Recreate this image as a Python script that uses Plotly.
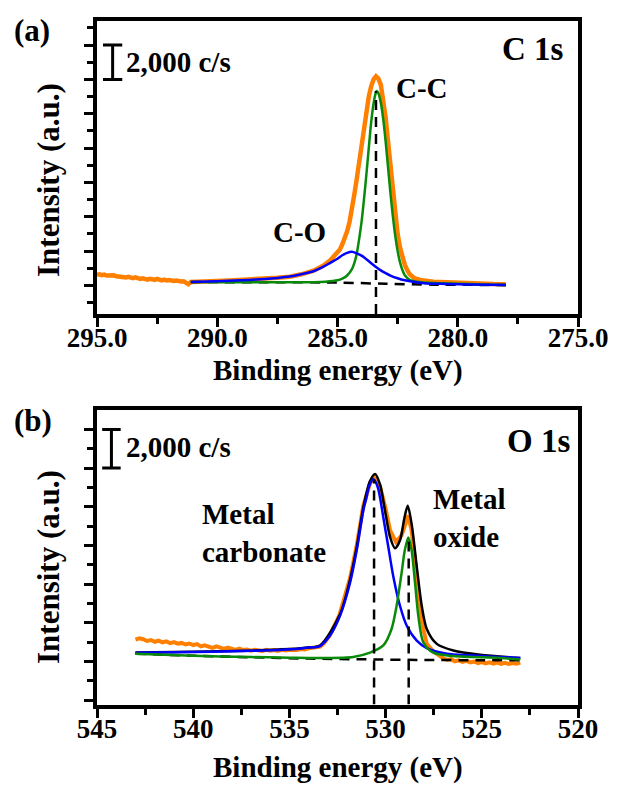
import plotly.graph_objects as go

# ---------------- C 1s (panel a) ----------------
c1s_raw_ev = [295.0, 294.9, 294.8, 294.7, 294.6, 294.5, 294.4, 294.3, 294.2, 294.1,
              294.0, 293.9, 293.8, 293.7, 293.6, 293.5, 293.4, 293.3, 293.2, 293.1,
              293.0, 292.9, 292.8, 292.7, 292.6, 292.5, 292.4, 292.3, 292.2, 292.1,
              292.0, 291.9, 291.8, 291.7, 291.6, 291.5, 291.4, 291.3, 291.2, 291.1,
              291.0, 290.5, 290.0, 289.5, 289.0, 288.5, 288.0, 287.5, 287.0, 286.5,
              286.0, 285.6, 285.3, 285.0, 284.9, 284.8, 284.7, 284.6, 284.5, 284.4,
              284.3, 284.2, 284.1, 284.0, 283.9, 283.8, 283.7, 283.6, 283.5, 283.4,
              283.3, 283.2, 283.1, 283.0, 282.9, 282.8, 282.7, 282.6, 282.5, 282.4,
              282.3, 282.2, 282.1, 282.0, 281.8, 281.5, 281.0, 280.5, 280.0, 279.5,
              279.0, 278.5, 278.0]
c1s_raw_cps = [2620, 2650, 2600, 2630, 2580, 2600, 2560, 2590, 2540, 2520,
               2550, 2500, 2470, 2510, 2450, 2430, 2470, 2400, 2380, 2420,
               2360, 2340, 2390, 2350, 2330, 2380, 2320, 2300, 2340, 2290,
               2320, 2280, 2260, 2290, 2250, 2230, 2240, 2150, 2080, 2210,
               2220, 2240, 2260, 2290, 2320, 2360, 2400, 2450, 2510, 2650,
               2860, 3150, 3470, 3900, 4100, 4400, 4750, 5150, 5700, 6400,
               7300, 8200, 9200, 10100, 11100, 12100, 13000, 13600, 14000, 14180,
               14050, 13700, 12900, 11800, 10400, 8900, 7400, 6100, 5000, 4200,
               3650, 3200, 2900, 2650, 2420, 2300, 2220, 2180, 2140, 2120,
               2100, 2080, 2070]

c1s_cc_ev = [291.1, 290.0, 289.0, 288.0, 287.0, 286.0, 285.5, 285.0, 284.8, 284.6,
             284.4, 284.3, 284.2, 284.1, 284.0, 283.9, 283.8, 283.7, 283.6, 283.5,
             283.4, 283.37, 283.3, 283.2, 283.1, 283.0, 282.9, 282.8, 282.7, 282.6,
             282.5, 282.4, 282.3, 282.2, 282.0, 281.7, 281.0, 280.0, 279.0, 278.0]
c1s_cc_cps = [2200, 2195, 2190, 2185, 2185, 2195, 2220, 2300, 2400, 2580,
              2950, 3300, 3850, 4700, 5700, 7000, 8450, 10000, 11500, 12600,
              13250, 13320, 13200, 12650, 11700, 10400, 8900, 7400, 6050, 4900,
              4000, 3350, 2900, 2600, 2330, 2220, 2140, 2100, 2060, 2030]

c1s_co_ev = [291.1, 290.0, 289.0, 288.0, 287.5, 287.0, 286.5, 286.0, 285.6, 285.3,
             285.0, 284.8, 284.6, 284.4, 284.2, 284.0, 283.8, 283.6, 283.4, 283.2,
             283.0, 282.8, 282.5, 282.2, 281.8, 281.4, 280.5, 279.5, 278.0]
c1s_co_cps = [2210, 2250, 2300, 2380, 2440, 2520, 2660, 2830, 3080, 3320,
              3560, 3760, 3900, 3960, 3870, 3740, 3530, 3300, 3080, 2880,
              2720, 2580, 2420, 2300, 2200, 2130, 2090, 2060, 2030]

c1s_base_ev = [291.1, 288.0, 285.0, 283.0, 281.0, 278.0]
c1s_base_cps = [2200, 2190, 2170, 2100, 2050, 2030]

c1s_cc_center = 283.4
c1s_cc_top = 13320

# ---------------- O 1s (panel b) ----------------
o1s_raw_ev = [543.0, 542.8, 542.6, 542.4, 542.2, 542.0, 541.8, 541.6, 541.4, 541.2,
              541.0, 540.8, 540.6, 540.4, 540.2, 540.0, 539.8, 539.6, 539.4, 539.2,
              539.0, 538.8, 538.6, 538.4, 538.2, 538.0, 537.8, 537.6, 537.4, 537.2,
              537.0, 536.8, 536.6, 536.4, 536.2, 536.0, 535.8, 535.6, 535.4, 535.2,
              535.0, 534.8, 534.6, 534.4, 534.2, 534.0, 533.8, 533.6, 533.4, 533.2,
              532.9, 532.4, 531.85, 531.5, 531.16, 530.8, 530.6, 530.3, 530.0, 529.77,
              529.46, 529.17, 528.94, 528.82, 528.65, 528.38, 528.12, 527.86, 527.5, 527.2,
              527.0, 526.8, 526.6, 526.4, 526.2, 526.0, 525.8, 525.6, 525.4, 525.2,
              525.0, 524.8, 524.6, 524.4, 524.2, 524.0, 523.8, 523.6, 523.4, 523.2,
              523.0]
o1s_raw_cps = [5130, 5200, 5150, 5060, 5110, 5020, 5080, 4990, 5040, 4950,
               5000, 4920, 4960, 4880, 4930, 4850, 4900, 4780, 4840, 4760,
               4700, 4780, 4690, 4650, 4720, 4640, 4600, 4670, 4590, 4620,
               4560, 4610, 4570, 4540, 4600, 4560, 4590, 4550, 4600, 4570,
               4610, 4580, 4600, 4640, 4620, 4680, 4700, 4740, 4770, 4950,
               5340, 6400, 8300, 10000, 12050, 13250, 13500, 13080, 11900, 10780,
               10180, 10530, 11290, 11550, 10780, 8400, 6020, 4910, 4500, 4300,
               4150, 4080, 4120, 4010, 4060, 3980, 4030, 3950, 4000, 3920,
               3970, 3900, 3960, 3890, 3940, 3880, 3930, 3870, 3920, 3880,
               3940]

o1s_env_ev = [543.0, 540.0, 537.0, 535.0, 534.0, 533.41, 532.37, 531.85, 531.5, 531.16,
              530.81, 530.55, 530.29, 530.03, 529.77, 529.51, 529.25, 529.03, 528.85, 528.65,
              528.38, 528.12, 527.86, 527.34, 526.48, 525.09, 523.0]
o1s_env_cps = [4460, 4500, 4560, 4640, 4720, 4830, 6440, 8230, 9930, 11970,
               13330, 13700, 13160, 11800, 10440, 9850, 10270, 11380, 12060, 11120,
               8910, 6870, 5680, 4910, 4570, 4350, 4180]

o1s_carb_ev = [543.0, 541.0, 539.0, 537.0, 535.5, 534.5, 534.0, 533.41, 532.89, 532.37,
               531.85, 531.5, 531.16, 531.0, 530.9, 530.8, 530.64, 530.5, 530.38, 530.25,
               530.12, 529.86, 529.6, 529.25, 528.9, 528.38, 527.86, 526.82, 525.61, 524.05,
               523.0]
o1s_carb_cps = [4455, 4480, 4510, 4550, 4600, 4660, 4720, 4800, 5340, 6360,
                8060, 9760, 11800, 12450, 12910, 13200, 13420, 13250, 12910, 12250,
                11460, 9930, 8400, 6870, 5850, 5080, 4690, 4400, 4320, 4235,
                4185]

o1s_oxide_ev = [543.0, 540.0, 537.0, 535.0, 533.41, 531.68, 530.81, 530.12, 529.69, 529.43,
                529.17, 529.0, 528.82, 528.65, 528.47, 528.3, 528.04, 527.52, 526.48, 524.05,
                523.0]
o1s_oxide_cps = [4400, 4300, 4230, 4200, 4185, 4235, 4455, 4830, 5680, 6870,
                 8570, 9760, 10410, 9760, 8060, 6360, 4990, 4455, 4285, 4185,
                 4100]

o1s_base_ev = [543.0, 540.0, 537.0, 534.0, 531.0, 528.0, 525.0, 523.0]
o1s_base_cps = [4400, 4300, 4220, 4150, 4110, 4080, 4065, 4060]

o1s_carb_center, o1s_carb_top = 530.6, 13420
o1s_oxide_center, o1s_oxide_top = 528.8, 10410

# axis ranges and scale bar (counts per second)
c1s_range_ev = [295, 275]
c1s_range_cps = [340, 17430]
o1s_range_ev = [545, 520]
o1s_range_cps = [1776, 16990]
scale_bar_cps = [14000, 16000]

ORANGE = "#FF8000"
GREEN = "#0A8A0A"
BLUE = "#0000FF"
FONT = "Liberation Serif, Times New Roman, serif"

fig = go.Figure()


def curve(x, y, color, width, xa, ya, dash=None, shape="spline"):
    fig.add_trace(go.Scatter(
        x=x, y=y, mode="lines", xaxis=xa, yaxis=ya, showlegend=False,
        line=dict(color=color, width=width, dash=dash, shape=shape, smoothing=0.8),
        hoverinfo="skip"))


DASH = "10px,7px"

# panel a
curve(c1s_raw_ev, c1s_raw_cps, ORANGE, 4.5, "x", "y", shape="linear")
curve(c1s_base_ev, c1s_base_cps, "black", 2.5, "x", "y", dash=DASH)
curve(c1s_cc_ev, c1s_cc_cps, GREEN, 2.5, "x", "y")
curve(c1s_co_ev, c1s_co_cps, BLUE, 2.5, "x", "y")
curve([c1s_cc_center, c1s_cc_center], [c1s_range_cps[0], c1s_cc_top], "black", 2.5,
      "x", "y", dash=DASH, shape="linear")

# panel b
curve(o1s_raw_ev, o1s_raw_cps, ORANGE, 4, "x2", "y2", shape="linear")
curve(o1s_env_ev, o1s_env_cps, "black", 2.5, "x2", "y2")
curve(o1s_base_ev, o1s_base_cps, "black", 2.5, "x2", "y2", dash=DASH)
curve(o1s_carb_ev, o1s_carb_cps, BLUE, 2.5, "x2", "y2")
curve(o1s_oxide_ev, o1s_oxide_cps, GREEN, 2.5, "x2", "y2")
for cx, top in [(o1s_carb_center, o1s_carb_top), (o1s_oxide_center, o1s_oxide_top)]:
    curve([cx, cx], [o1s_range_cps[0], top], "black", 2.5, "x2", "y2",
          dash=DASH, shape="linear")

# scale bars (I-beam spanning 2,000 c/s)
for xa, ya, xc, half in [("x", "y", 294.35, 0.4), ("x2", "y2", 544.25, 0.48)]:
    lo, hi = scale_bar_cps
    for y0, y1, x0, x1 in [(lo, hi, xc, xc), (lo, lo, xc + half, xc - half),
                           (hi, hi, xc + half, xc - half)]:
        fig.add_shape(type="line", xref=xa, yref=ya, x0=x0, x1=x1, y0=y0, y1=y1,
                      line=dict(color="black", width=3))

tickfont = dict(family=FONT, size=27, color="black", weight="bold")


def xaxis(dom, anchor, rng, fmt):
    return dict(domain=dom, anchor=anchor, range=rng, showgrid=False, zeroline=False,
                automargin=False, ticklabelstandoff=-12,
                showline=True, linewidth=4, linecolor="black", mirror=True,
                ticks="outside", ticklen=9, tickwidth=3, tickcolor="black",
                tickmode="linear", tick0=0, dtick=5, tickformat=fmt, tickfont=tickfont,
                minor=dict(dtick=2.5, ticks="outside", ticklen=6, tickwidth=3,
                           tickcolor="black", showgrid=False))


def yaxis(dom, anchor, rng):
    return dict(domain=dom, anchor=anchor, range=rng, showgrid=False, zeroline=False,
                automargin=False,
                showline=True, linewidth=4, linecolor="black", mirror=True,
                ticks="outside", ticklen=9, tickwidth=3, tickcolor="black",
                tickmode="linear", tick0=0, dtick=2000, showticklabels=False,
                minor=dict(dtick=1000, ticks="outside", ticklen=6, tickwidth=3,
                           tickcolor="black", showgrid=False))


XDOM = [97 / 618, 578 / 618]
fig.update_layout(
    width=618, height=788, margin=dict(l=0, r=0, t=0, b=0, autoexpand=False),
    paper_bgcolor="white", plot_bgcolor="white",
    xaxis=xaxis(XDOM, "y", c1s_range_ev, ".1f"),
    yaxis=yaxis([1 - 314 / 788, 1 - 20.5 / 788], "x", c1s_range_cps),
    xaxis2=xaxis(XDOM, "y2", o1s_range_ev, "d"),
    yaxis2=yaxis([1 - 704.5 / 788, 1 - 410.3 / 788], "x2", o1s_range_cps),
)


def label(text, x, y, size, xanchor="center", angle=0):
    fig.add_annotation(text=text, x=x / 618, y=1 - y / 788, xref="paper", yref="paper",
                       xanchor=xanchor, yanchor="middle", showarrow=False, textangle=angle,
                       align="left" if xanchor == "left" else "center",
                       font=dict(family=FONT, size=size, color="black", weight="bold"))


label("(a)", 32, 31, 31)
label("(b)", 33, 420, 31)
label("Intensity (a.u.)", 48, 180, 31, angle=-90)
label("Intensity (a.u.)", 48, 567, 31, angle=-90)
label("Binding energy (eV)", 338, 371, 29)
label("Binding energy (eV)", 338, 767, 29)
label("C 1s", 533, 49, 33)
label("O 1s", 538, 441, 33)
label("2,000 c/s", 124, 62, 29, xanchor="left")
label("2,000 c/s", 124, 447, 29, xanchor="left")
label("C-C", 422, 88, 29)
label("C-O", 299, 232, 29)
label("Metal<br>carbonate", 200, 533, 29, xanchor="left")
label("Metal<br>oxide", 431, 518, 29, xanchor="left")

fig.write_html("out.html")
